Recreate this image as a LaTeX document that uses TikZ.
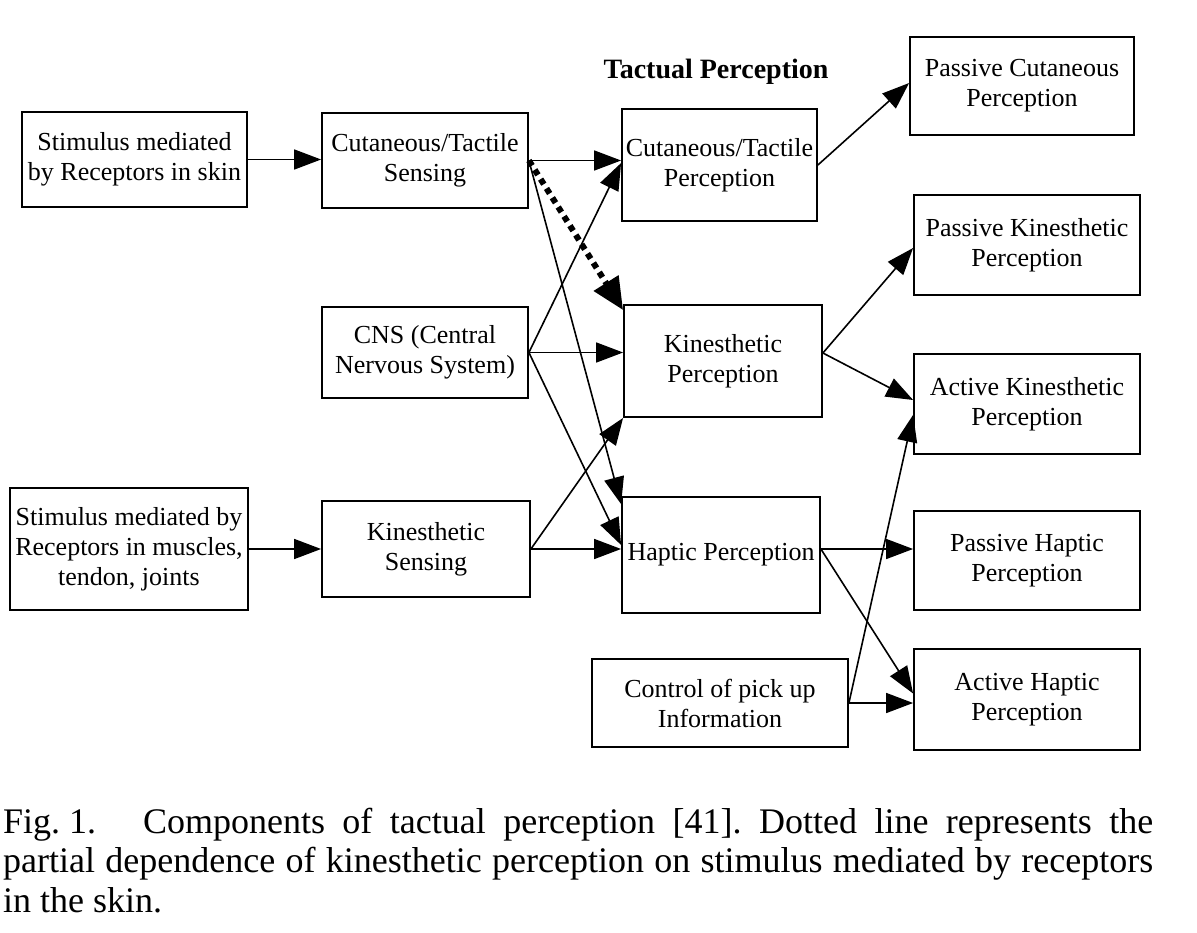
\documentclass[tikz,border=0pt]{standalone}
\usepackage{fontspec}
\setmainfont{Liberation Serif}
\usetikzlibrary{arrows.meta,calc}
\begin{document}
\begin{tikzpicture}[x=1pt,y=-1pt,
  box/.style={draw, line width=1.8pt, inner sep=0pt, align=center,
    font=\fontsize{26}{30}\selectfont},
  arr/.style={line width=1.6pt, -{Triangle[length=27pt,width=20pt]}},
  dotarr/.style={line width=6pt, dash pattern=on 6pt off 5pt,
    -{Triangle[length=32pt,width=28pt]}},
  capline/.style={anchor=base west, inner sep=0pt,
    font=\fontsize{36}{40}\selectfont},
]
\useasboundingbox[fill=white] (0,0) rectangle (1197,933);

\node[font=\bfseries\fontsize{28}{30}\selectfont, inner sep=0pt] (title) at (716,72) {Tactual Perception};

\node[box, minimum width=225pt, minimum height=95pt] (s1) at (134.5,159.5) {Stimulus mediated\\by Receptors in skin};
\node[box, minimum width=206pt, minimum height=95pt] (cs) at (425,160.5) {Cutaneous/Tactile\\Sensing};
\node[box, minimum width=195pt, minimum height=112pt] (cp) at (719.5,165) {Cutaneous/Tactile\\Perception};
\node[box, minimum width=224pt, minimum height=98pt] (pc) at (1022,86) {Passive Cutaneous\\Perception};
\node[box, minimum width=226pt, minimum height=100pt] (pk) at (1027,245) {Passive Kinesthetic\\Perception};
\node[box, minimum width=226pt, minimum height=100pt] (ak) at (1027,404) {Active Kinesthetic\\Perception};
\node[box, minimum width=226pt, minimum height=99pt] (ph) at (1027,560.5) {Passive Haptic\\Perception};
\node[box, minimum width=226pt, minimum height=101pt] (ah) at (1027,699.5) {Active Haptic\\Perception};
\node[box, minimum width=206pt, minimum height=91pt] (cns) at (425,352.5) {CNS (Central\\Nervous System)};
\node[box, minimum width=198pt, minimum height=112pt] (kp) at (723,361) {Kinesthetic\\Perception};
\node[box, minimum width=238pt, minimum height=122pt] (s2) at (129,549) {Stimulus mediated by\\Receptors in muscles,\\tendon, joints};
\node[box, minimum width=208pt, minimum height=96pt] (ks) at (426,549) {Kinesthetic\\Sensing};
\node[box, minimum width=198pt, minimum height=116pt] (hp) at (721,555) {Haptic Perception};
\node[box, minimum width=256pt, minimum height=88pt] (ctl) at (720,703) {Control of pick up\\Information};

% connectors
\draw[arr] (s1.east) -- (cs.west |- s1.east);
\draw[arr] (cs.east) -- (cp.west |- cs.east);
\draw[dotarr] (cs.east) -- ($(kp.north west)+(0,6)$);
\draw[arr] (cs.east) -- ($(hp.north west)+(0,8)$);
\draw[arr] (cns.east) -- ($(cp.west)+(0,-2)$);
\draw[arr] (cns.east) -- (kp.west |- cns.east);
\draw[arr] (cns.east) -- ($(hp.west)+(0,-10)$);
\draw[arr] (s2.east) -- (ks.west |- s2.east);
\draw[arr] (ks.east) -- (kp.south west);
\draw[arr] (ks.east) -- (hp.west |- ks.east);
\draw[arr] (cp.east) -- ($(pc.west)+(0,-3)$);
\coordinate (kpo) at ($(kp.east)+(0,-8)$);
\draw[arr] (kpo) -- ($(pk.west)+(0,3)$);
\draw[arr] (kpo) -- ($(ak.west)+(0,-4)$);
\coordinate (hpo) at ($(hp.east)+(0,-6)$);
\draw[arr] (hpo) -- (ph.west |- hpo);
\draw[arr] (hpo) -- ($(ah.west)+(0,-6)$);
\draw[arr] (ctl.east) -- (ah.west |- ctl.east);
\draw[arr] (ctl.east) -- ($(ak.south west)+(0,-40)$);

% caption
\node[capline] (c1) at (3,833) {\frenchspacing\makebox[1150pt][s]{\mbox{Fig.\kern0.25em1.}\hspace{1.3em}Components of tactual perception [41]. Dotted line represents the}};
\node[capline] (c2) at (3,872) {\frenchspacing\makebox[1150pt][s]{partial dependence of kinesthetic perception on stimulus mediated by receptors}};
\node[capline] (c3) at (3,912) {in the skin.};
\end{tikzpicture}
\end{document}
